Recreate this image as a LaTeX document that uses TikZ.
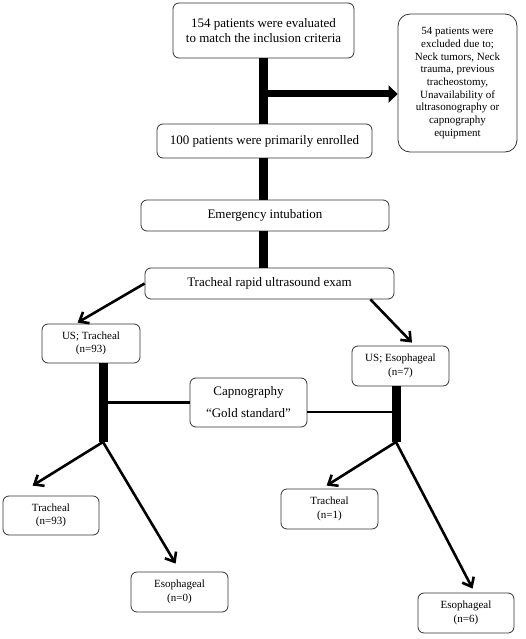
\documentclass[tikz,border=0pt]{standalone}
\usepackage{fontspec}
\setmainfont{Liberation Serif}
\usetikzlibrary{arrows.meta,calc}
\begin{document}
\begin{tikzpicture}[x=1pt,y=-1pt,
  box/.style={draw=black!80, line width=0.8pt, rounded corners=6pt, align=center, inner sep=2pt},
  big/.style={font=\fontsize{13}{15}\selectfont},
  small/.style={font=\fontsize{11}{13.5}\selectfont},
  spine/.style={line width=9pt},
  link/.style={line width=2.6pt},
  barb/.style={line width=2.6pt, -{Straight Barb[length=8pt,width=13pt,line width=2.6pt]}},
  fat/.style={line width=7pt, -{Triangle[length=9pt,width=17pt]}}]
\useasboundingbox (0,0) rectangle (525,639);
\node[box,big,minimum width=181pt,minimum height=55pt] (b1) at (263.5,30.5) {154 patients were evaluated\\to match the inclusion criteria};
\node[box,small,minimum width=119pt,minimum height=138pt,rounded corners=12pt,font=\fontsize{11}{12.7}\selectfont] (b2) at (457.5,83) {54 patients were\\excluded due to;\\Neck tumors, Neck\\trauma, previous\\tracheostomy,\\Unavailability of\\ultrasonography or\\capnography\\equipment};
\node[box,big,minimum width=215pt,minimum height=34pt] (b3) at (264.5,141) {100 patients were primarily enrolled};
\node[box,big,minimum width=248pt,minimum height=31pt] (b4) at (265,215.5) {Emergency intubation};
\node[box,big,minimum width=249pt,minimum height=31pt] (b5) at (269.5,283.5) {Tracheal rapid ultrasound exam};
\node[box,small,minimum width=98pt,minimum height=39pt] (ust) at (91,343.5) {US; Tracheal\\(n=93)};
\node[box,small,minimum width=97pt,minimum height=40pt] (use) at (400.5,366) {US; Esophageal\\(n=7)};
\node[box,font=\fontsize{13}{22}\selectfont,minimum width=117pt,minimum height=49pt] (cap) at (248.5,402.5) {Capnography\\``Gold standard''};
\node[box,small,minimum width=96pt,minimum height=39pt] (t93) at (51,515.5) {Tracheal\\(n=93)};
\node[box,small,minimum width=97pt,minimum height=40pt] (e0) at (179.5,592) {Esophageal\\(n=0)};
\node[box,small,minimum width=97pt,minimum height=40pt] (t1) at (329.5,509) {Tracheal\\(n=1)};
\node[box,small,minimum width=96pt,minimum height=40pt] (e6) at (466,613) {Esophageal\\(n=6)};
% main spine
\coordinate (sx) at (263.5,0);
\draw[spine] (sx |- b1.south) -- (sx |- b3.north);
\draw[spine] (sx |- b3.south) -- (sx |- b4.north);
\draw[spine] (sx |- b4.south) -- (sx |- b5.north);
\coordinate (j1) at (263.5,94);
\draw[fat] (j1) -- (j1 -| b2.west);
% split to US results
\draw[barb] (b5.west) -- ($(ust.north west)+(36,-1)$);
\draw[barb] ($(b5.south east)+(-24,0)$) -- ($(use.north)+(11.5,-3)$);
% stems
\coordinate (lj) at (103,442);
\coordinate (rj) at (396,442);
\draw[spine] (lj |- ust.south) -- (lj);
\draw[spine] (rj |- use.south) -- (rj);
\draw[line width=2.2pt] (cap.west) -- (cap.west -| lj);
\coordinate (cr) at ($(cap.east)+(0,9.5)$);
\draw[line width=2.2pt] (cr) -- (cr -| rj);
% branches
\draw[barb] (lj) -- ($(t93.north west)+(30,-10)$);
\draw[barb] (lj) -- ($(e0.north west)+(45,-8)$);
\draw[barb] (rj) -- ($(t1.north west)+(46,-3)$);
\draw[barb] (rj) -- ($(e6.north west)+(55,-4)$);
\end{tikzpicture}
\end{document}
